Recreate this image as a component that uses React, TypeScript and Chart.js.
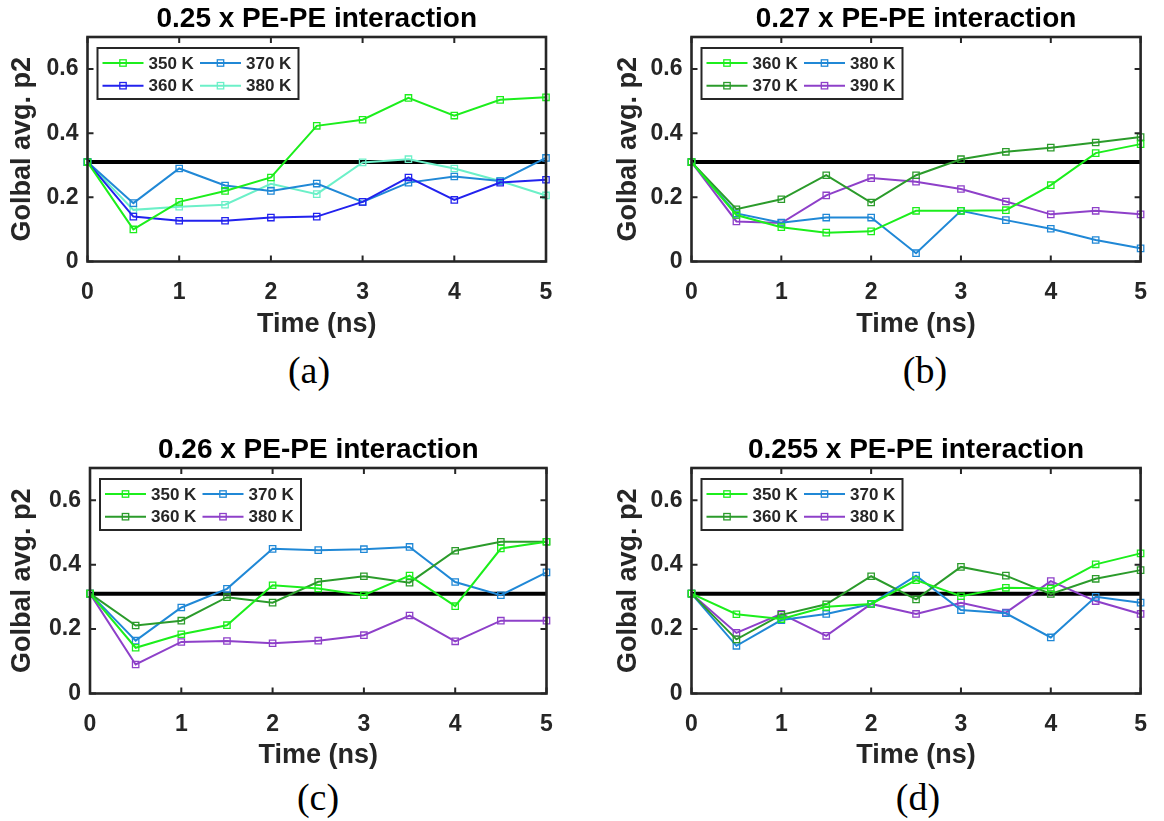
import React, { useEffect, useRef } from "react";
import { Chart, registerables } from "chart.js";

Chart.register(...registerables);

// ---- shared axes ----
const TIME = [0, 0.5, 1, 1.5, 2, 2.5, 3, 3.5, 4, 4.5, 5];
const X_TICKS = [0, 1, 2, 3, 4, 5];
const Y_TICKS = [0, 0.2, 0.4, 0.6];
const Y_TICK_LABELS = ["0", "0.2", "0.4", "0.6"];
const Y_MAX = 0.7;
const REFERENCE_P2 = 0.31;

// ---- (a) 0.25 x PE-PE interaction ----
const A_350 = [0.31, 0.1, 0.186, 0.22, 0.262, 0.423, 0.442, 0.51, 0.455, 0.504, 0.512];
const A_360 = [0.31, 0.14, 0.127, 0.127, 0.137, 0.14, 0.186, 0.262, 0.192, 0.246, 0.255];
const A_370 = [0.31, 0.182, 0.29, 0.237, 0.22, 0.243, 0.186, 0.246, 0.265, 0.251, 0.323];
const A_380 = [0.31, 0.161, 0.171, 0.177, 0.242, 0.21, 0.309, 0.319, 0.29, 0.251, 0.206];

// ---- (b) 0.27 x PE-PE interaction ----
const B_360 = [0.31, 0.145, 0.107, 0.09, 0.094, 0.158, 0.158, 0.16, 0.238, 0.338, 0.366];
const B_370 = [0.31, 0.163, 0.194, 0.269, 0.184, 0.269, 0.319, 0.342, 0.355, 0.371, 0.388];
const B_380 = [0.31, 0.15, 0.121, 0.137, 0.137, 0.026, 0.158, 0.129, 0.102, 0.067, 0.041];
const B_390 = [0.31, 0.125, 0.12, 0.206, 0.26, 0.249, 0.226, 0.187, 0.147, 0.158, 0.147];

// ---- (c) 0.26 x PE-PE interaction ----
const C_350 = [0.31, 0.142, 0.184, 0.212, 0.336, 0.326, 0.305, 0.366, 0.271, 0.45, 0.471];
const C_360 = [0.31, 0.211, 0.226, 0.299, 0.282, 0.347, 0.364, 0.344, 0.443, 0.471, 0.471];
const C_370 = [0.31, 0.164, 0.267, 0.325, 0.449, 0.445, 0.448, 0.455, 0.346, 0.305, 0.376];
const C_380 = [0.31, 0.09, 0.16, 0.163, 0.156, 0.164, 0.181, 0.242, 0.162, 0.226, 0.226];

// ---- (d) 0.255 x PE-PE interaction ----
const D_350 = [0.31, 0.246, 0.231, 0.269, 0.278, 0.352, 0.302, 0.328, 0.326, 0.401, 0.435];
const D_360 = [0.31, 0.168, 0.244, 0.277, 0.364, 0.292, 0.393, 0.366, 0.309, 0.356, 0.383];
const D_370 = [0.31, 0.148, 0.228, 0.247, 0.278, 0.366, 0.259, 0.249, 0.174, 0.3, 0.282];
const D_380 = [0.31, 0.188, 0.247, 0.179, 0.278, 0.247, 0.282, 0.251, 0.349, 0.287, 0.247];

// ---- colours ----
const GREEN = "#1cee1c";
const DARK_GREEN = "#2b9b2b";
const BLUE = "#2222ee";
const SKY = "#2088d6";
const AQUA = "#6cf0c8";
const PURPLE = "#8e40c9";

const INK = "#262626";
const SANS = "'Liberation Sans', Arial, Helvetica, sans-serif";

type Series = { label: string; color: string; values: number[] };
type PanelSpec = {
  title: string;
  tag: string;
  series: Series[];
  box: { left: number; top: number; width: number; height: number };
  plot: { l: number; r: number; t: number; b: number };
  tagPos: { x: number; y: number };
};

const PANELS: PanelSpec[] = [
  {
    title: "0.25 x PE-PE interaction",
    tag: "(a)",
    series: [
      { label: "350 K", color: GREEN, values: A_350 },
      { label: "360 K", color: BLUE, values: A_360 },
      { label: "370 K", color: SKY, values: A_370 },
      { label: "380 K", color: AQUA, values: A_380 },
    ],
    box: { left: 0, top: 0, width: 582, height: 341 },
    plot: { l: 87.5, r: 546, t: 37, b: 261.5 },
    tagPos: { x: 309, y: 370 },
  },
  {
    title: "0.27 x PE-PE interaction",
    tag: "(b)",
    series: [
      { label: "360 K", color: GREEN, values: B_360 },
      { label: "370 K", color: DARK_GREEN, values: B_370 },
      { label: "380 K", color: SKY, values: B_380 },
      { label: "390 K", color: PURPLE, values: B_390 },
    ],
    box: { left: 606, top: 0, width: 558, height: 341 },
    plot: { l: 691.5, r: 1148.5, t: 37, b: 261.5 },
    tagPos: { x: 925, y: 370 },
  },
  {
    title: "0.26 x PE-PE interaction",
    tag: "(c)",
    series: [
      { label: "350 K", color: GREEN, values: C_350 },
      { label: "360 K", color: DARK_GREEN, values: C_360 },
      { label: "370 K", color: SKY, values: C_370 },
      { label: "380 K", color: PURPLE, values: C_380 },
    ],
    box: { left: 0, top: 431, width: 582, height: 341 },
    plot: { l: 90, r: 546.5, t: 468, b: 693.5 },
    tagPos: { x: 318, y: 797 },
  },
  {
    title: "0.255 x PE-PE interaction",
    tag: "(d)",
    series: [
      { label: "350 K", color: GREEN, values: D_350 },
      { label: "360 K", color: DARK_GREEN, values: D_360 },
      { label: "370 K", color: SKY, values: D_370 },
      { label: "380 K", color: PURPLE, values: D_380 },
    ],
    box: { left: 606, top: 431, width: 558, height: 341 },
    plot: { l: 691.5, r: 1148.5, t: 468, b: 693.5 },
    tagPos: { x: 918, y: 797 },
  },
];

function drawSquare(ctx: CanvasRenderingContext2D, x: number, y: number, color: string) {
  ctx.save();
  ctx.strokeStyle = color;
  ctx.lineWidth = 1.3;
  ctx.strokeRect(x - 3.2, y - 3.2, 6.4, 6.4);
  ctx.restore();
}

function buildChart(canvas: HTMLCanvasElement, spec: PanelSpec) {
  const { box, plot } = spec;

  // frame with inward ticks on all four sides, like a boxed axes
  const framePlugin = {
    id: "boxFrame",
    afterDatasetsDraw(chart: any) {
      const { ctx, chartArea: ca } = chart;
      const xs = chart.scales.x;
      const ys = chart.scales.y;
      ctx.save();
      ctx.strokeStyle = INK;
      ctx.lineWidth = 2;
      ctx.beginPath();
      X_TICKS.forEach((v) => {
        const px = xs.getPixelForValue(v);
        ctx.moveTo(px, ca.bottom);
        ctx.lineTo(px, ca.bottom - 6);
        ctx.moveTo(px, ca.top);
        ctx.lineTo(px, ca.top + 6);
      });
      Y_TICKS.forEach((v) => {
        const py = ys.getPixelForValue(v);
        ctx.moveTo(ca.left, py);
        ctx.lineTo(ca.left + 6, py);
        ctx.moveTo(ca.right, py);
        ctx.lineTo(ca.right - 6, py);
      });
      ctx.stroke();
      ctx.lineWidth = 2.6;
      ctx.strokeRect(ca.left, ca.top, ca.right - ca.left, ca.bottom - ca.top);
      ctx.restore();
    },
  };

  // two-column legend inside the top-left corner, then the panel title
  const legendTitlePlugin = {
    id: "legendTitle",
    afterDraw(chart: any) {
      const { ctx, chartArea: ca } = chart;
      const bx = ca.left + 10;
      const by = ca.top + 11;
      const bw = 201;
      const bh = 51;
      ctx.save();
      ctx.fillStyle = "#ffffff";
      ctx.fillRect(bx, by, bw, bh);
      ctx.strokeStyle = INK;
      ctx.lineWidth = 2;
      ctx.strokeRect(bx, by, bw, bh);
      ctx.font = `bold 17px ${SANS}`;
      ctx.textBaseline = "middle";
      ctx.textAlign = "left";
      spec.series.forEach((s, i) => {
        const col = Math.floor(i / 2);
        const row = i % 2;
        const x0 = bx + col * 97.5;
        const y0 = by + 15 + row * 22.7;
        ctx.strokeStyle = s.color;
        ctx.lineWidth = 2;
        ctx.beginPath();
        ctx.moveTo(x0 + 5, y0);
        ctx.lineTo(x0 + 46, y0);
        ctx.stroke();
        drawSquare(ctx, x0 + 25.5, y0, s.color);
        ctx.fillStyle = INK;
        ctx.fillText(s.label, x0 + 51, y0 + 1);
      });

      ctx.fillStyle = "#000000";
      ctx.font = `bold 28px ${SANS}`;
      ctx.textAlign = "center";
      ctx.textBaseline = "alphabetic";
      ctx.fillText(spec.title, (ca.left + ca.right) / 2, ca.top - 10);
      ctx.restore();
    },
  };

  const datasets: any[] = spec.series.map((s) => ({
    label: s.label,
    data: TIME.map((t, i) => ({ x: t, y: s.values[i] })),
    borderColor: s.color,
    borderWidth: 2,
    pointStyle: "rect",
    pointRadius: 4.5,
    pointBorderWidth: 1.3,
    pointBorderColor: s.color,
    pointBackgroundColor: "rgba(0,0,0,0)",
    tension: 0,
    clip: 10,
  }));
  datasets.push({
    label: "reference",
    data: [
      { x: TIME[0], y: REFERENCE_P2 },
      { x: TIME[TIME.length - 1], y: REFERENCE_P2 },
    ],
    borderColor: "#000000",
    borderWidth: 4,
    pointRadius: 0,
    tension: 0,
    clip: 10,
  });

  const tickFont = { family: SANS, size: 23, weight: "bold" as const };
  const titleFont = { family: SANS, size: 27, weight: "bold" as const };

  return new Chart(canvas, {
    type: "line",
    data: { datasets },
    options: {
      animation: false,
      responsive: false,
      maintainAspectRatio: false,
      devicePixelRatio: 1,
      layout: {
        padding: {
          left: 0,
          top: plot.t - box.top,
          right: box.left + box.width - plot.r,
          bottom: 0,
        },
      },
      plugins: {
        legend: { display: false },
        tooltip: { enabled: false },
        title: { display: false },
      },
      scales: {
        x: {
          type: "linear",
          min: 0,
          max: 5,
          afterBuildTicks: (s: any) => {
            s.ticks = X_TICKS.map((v) => ({ value: v }));
          },
          afterFit: (s: any) => {
            s.height = box.top + box.height - plot.b;
          },
          grid: { display: false, drawTicks: false },
          border: { display: false },
          ticks: {
            padding: 17,
            font: tickFont,
            color: INK,
            maxRotation: 0,
            autoSkip: false,
            callback: (v: any) => String(v),
          },
          title: {
            display: true,
            text: "Time (ns)",
            font: titleFont,
            color: INK,
            padding: { top: 0, bottom: 0 },
          },
        },
        y: {
          type: "linear",
          min: 0,
          max: Y_MAX,
          afterBuildTicks: (s: any) => {
            s.ticks = Y_TICKS.map((v) => ({ value: v }));
          },
          afterFit: (s: any) => {
            s.width = plot.l - box.left;
          },
          grid: { display: false, drawTicks: false },
          border: { display: false },
          ticks: {
            padding: 9,
            font: tickFont,
            color: INK,
            autoSkip: false,
            callback: (_v: any, i: number) => Y_TICK_LABELS[i],
          },
          title: {
            display: true,
            text: "Golbal avg. p2",
            font: titleFont,
            color: INK,
            padding: { top: 6, bottom: 0 },
          },
        },
      },
    },
    plugins: [framePlugin, legendTitlePlugin],
  } as any);
}

function Panel({ spec }: { spec: PanelSpec }) {
  const ref = useRef<HTMLCanvasElement | null>(null);
  useEffect(() => {
    if (!ref.current) return;
    const chart = buildChart(ref.current, spec);
    return () => chart.destroy();
  }, [spec]);
  const { box } = spec;
  return (
    <>
      <canvas
        ref={ref}
        width={box.width}
        height={box.height}
        style={{
          position: "absolute",
          left: box.left,
          top: box.top,
          width: box.width,
          height: box.height,
        }}
      />
      <div
        style={{
          position: "absolute",
          left: spec.tagPos.x,
          top: spec.tagPos.y,
          transform: "translate(-50%, -50%)",
          fontFamily: "'Liberation Serif', 'Times New Roman', serif",
          fontSize: 38,
          lineHeight: 1,
          color: "#000",
          whiteSpace: "nowrap",
        }}
      >
        {spec.tag}
      </div>
    </>
  );
}

export default function App() {
  return (
    <div
      style={{
        position: "absolute",
        left: 0,
        top: 0,
        width: 1164,
        height: 821,
        background: "#ffffff",
        overflow: "hidden",
      }}
    >
      {PANELS.map((p) => (
        <Panel key={p.tag} spec={p} />
      ))}
    </div>
  );
}
